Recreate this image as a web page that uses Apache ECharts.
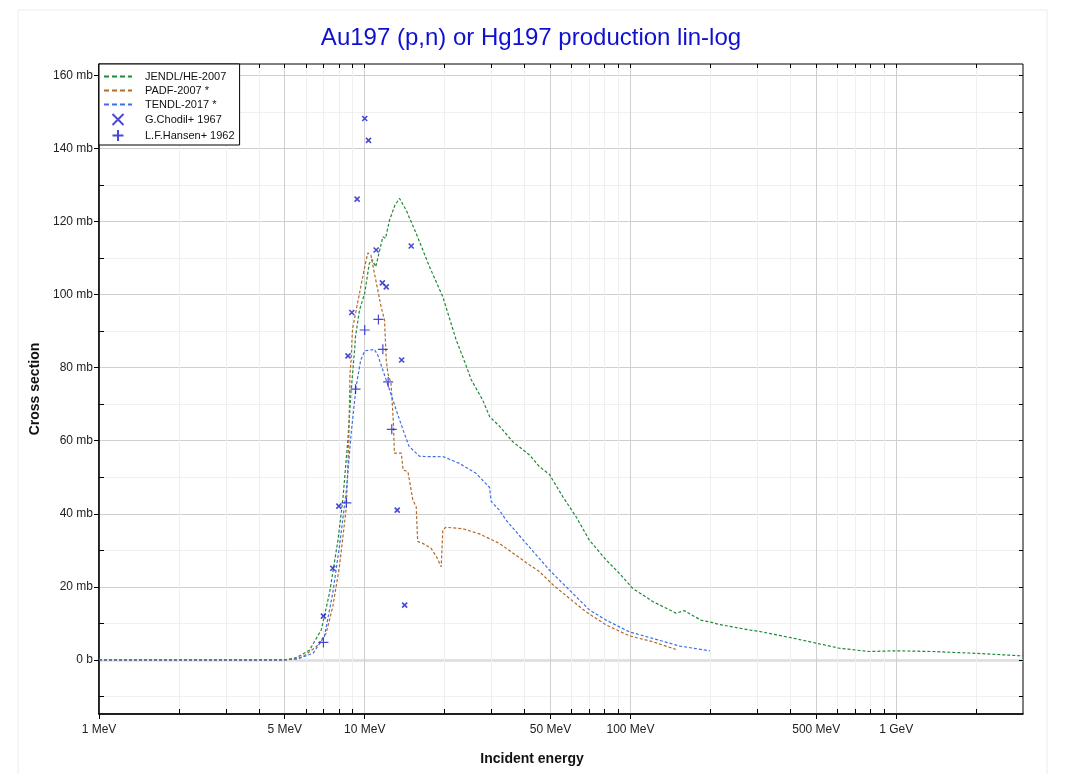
<!DOCTYPE html>
<html><head><meta charset="utf-8">
<script src="https://cdn.jsdelivr.net/npm/echarts@6/dist/echarts.min.js"></script>
<style>html,body{margin:0;padding:0;background:#fff}#c{width:1071px;height:774px}</style>
</head><body><div id="c"></div>
<script>
// ---- data (energy in MeV, cross section in mb) ----
const jendlE  = [1, 2, 3, 4, 5, 5.4, 5.69, 6.2, 6.86, 7.37, 7.93, 8.27, 8.64, 8.89, 9.16, 9.23, 9.56, 10.0, 10.4, 10.65, 11.0, 11.7, 11.97, 12.4, 13.0, 13.52, 14.32, 15.62, 17.53, 19.67, 22.1, 23.38, 25.2, 27.8, 29.5, 32.1, 36.1, 41.7, 45.4, 49.5, 55.6, 62.4, 70, 80.9, 90.8, 101.9, 121.2, 148.4, 159.5, 184, 204, 216, 280, 305, 395, 499, 611, 791, 997, 1371, 1995, 3000];
const jendlXS = [0, 0, 0, 0, 0.05, 0.4, 1.1, 2.7, 8.2, 18.3, 32.8, 43.8, 60.2, 73.9, 84.8, 88.5, 95.8, 100.4, 108.5, 109.6, 107.6, 115.8, 115.4, 120.4, 124.5, 126.3, 123.1, 116.7, 107.6, 99.4, 87.5, 83.0, 76.6, 71.1, 66.6, 64.0, 59.7, 56.1, 52.9, 50.8, 44.7, 39.2, 32.8, 27.4, 23.7, 19.6, 16.0, 12.8, 13.5, 10.9, 10.2, 9.7, 8.2, 7.8, 6.2, 4.6, 3.2, 2.3, 2.5, 2.3, 1.8, 1.1];

const padfE  = [1, 2, 3, 4, 5, 5.5, 5.85, 6.57, 7.16, 7.58, 8.03, 8.53, 8.71, 8.8, 8.89, 8.95, 9.0, 9.1, 9.66, 10.0, 10.27, 10.55, 10.88, 11.2, 11.52, 11.87, 12.05, 12.22, 12.56, 12.82, 12.93, 13.73, 13.94, 14.54, 15.17, 15.62, 15.82, 16.53, 17.74, 18.6, 19.4, 19.67, 20.2, 23.4, 27.0, 32.1, 34, 41.7, 45.4, 51.2, 58.8, 67.9, 80.9, 98.9, 121, 148];
const padfXS = [0, 0, 0, 0, 0.02, 0.3, 0.9, 3.6, 7.3, 14.6, 25.5, 41.9, 60.2, 78.4, 82.1, 87.5, 90.7, 90.8, 102.1, 107.6, 111.4, 110.8, 105.8, 101.2, 96.7, 93.0, 82.1, 78.4, 75.7, 64.8, 56.6, 56.6, 52.0, 51.5, 43.8, 41.9, 32.4, 31.9, 30.6, 28.3, 25.5, 35.6, 36.3, 35.9, 34.5, 31.9, 30.6, 26.0, 24.2, 20.5, 16.9, 13.2, 9.6, 6.6, 5.0, 2.9];

const tendlE  = [1, 2, 3, 4, 5, 5.6, 6.39, 7.05, 7.58, 8.03, 8.53, 8.89, 9.28, 9.66, 10.0, 10.88, 11.2, 11.7, 12.4, 13.14, 13.94, 14.7, 16.1, 19.8, 22.7, 26.2, 29.5, 29.9, 32.1, 34, 39.5, 49.5, 58.8, 70, 80.9, 98.9, 121, 153, 199];
const tendlXS = [0, 0, 0, 0, 0.02, 0.3, 1.8, 6.4, 18.3, 31.0, 46.5, 62.0, 74.8, 82.1, 84.6, 85.0, 83.4, 79.3, 73.9, 68.4, 62.9, 58.4, 55.7, 55.6, 53.8, 51.1, 47.2, 43.4, 41.0, 38.3, 32.8, 24.6, 19.2, 13.7, 10.9, 7.7, 5.9, 3.8, 2.5];

const chodilE  = [10.0, 10.33, 9.36, 11.04, 14.96, 11.65, 12.05, 8.94, 8.65, 13.77, 7.99, 7.58, 6.99, 13.25, 14.13];
const chodilXS = [148.2, 142.2, 126.1, 112.2, 113.3, 103.2, 102.1, 95.1, 83.2, 82.1, 42.1, 25.1, 12.0, 41.0, 15.0];

const hansenE  = [6.99, 8.53, 9.23, 10.0, 11.26, 11.7, 12.25, 12.64];
const hansenXS = [4.8, 43.0, 74.1, 90.3, 93.2, 85.0, 76.1, 63.1];

const seriesNames = ['JENDL/HE-2007', 'PADF-2007 *', 'TENDL-2017 *', 'G.Chodil+ 1967', 'L.F.Hansen+ 1962'];

const xMajorTicks = [1, 5, 10, 50, 100, 500, 1000];
const xMinorTicks = [2, 3, 4, 6, 7, 8, 9, 20, 30, 40, 60, 70, 80, 90, 200, 300, 400, 600, 700, 800, 900, 2000];
const yMajorTicks = [0, 20, 40, 60, 80, 100, 120, 140, 160];
const yMinorTicks = [-10, 10, 30, 50, 70, 90, 110, 130, 150];
const yZeroLine = [0];

const xMin = 1, xMax = 3000, yMin = -14.8, yMax = 163.1;

function zip(a, b) { return a.map((v, i) => [v, b[i]]); }
function xLabel(v) { return v >= 1000 ? (v / 1000) + ' GeV' : v + ' MeV'; }
function yLabel(v) { return v === 0 ? '0 b' : v + ' mb'; }

const FONT = 'Liberation Sans, Arial, sans-serif';
const cGreen = '#1f8a35', cBrown = '#b06a2c', cBlue = '#3d6fe6', cMark = '#1c1ccc';
const xSym = 'path://M0,0L10,10M0,10L10,0';
const pSym = 'path://M5,0L5,10M0,5L10,5';

const chart = echarts.init(document.getElementById('c'), null, { renderer: 'canvas' });

function xAxisBase(extra) {
  return Object.assign({ type: 'log', logBase: 10, min: xMin, max: xMax, gridIndex: 0 }, extra);
}
function yAxisBase(extra) {
  return Object.assign({ type: 'value', min: yMin, max: yMax, gridIndex: 0 }, extra);
}
const hideSym = { color: 'rgba(0,0,0,0)', borderColor: 'rgba(0,0,0,0)', borderWidth: 0, opacity: 0 };
const lineColors = [cGreen, cBrown, cBlue];

const option = {
  backgroundColor: '#fff',
  animation: false,
  title: {
    text: 'Au197 (p,n) or Hg197 production lin-log',
    left: 526, top: 21, textAlign: 'center',
    textStyle: { color: '#1010d0', fontSize: 24, fontWeight: 'normal', fontFamily: FONT }
  },
  grid: { left: 99, right: 48, top: 64, bottom: 60, show: true, borderColor: '#000', borderWidth: 1, backgroundColor: 'transparent' },
  legend: {
    orient: 'vertical', left: 99, top: 64,
    data: seriesNames.map((n, i) => i < 3
      ? { name: n, itemStyle: hideSym, lineStyle: { color: lineColors[i], width: 2, type: [5, 3] } }
      : { name: n }),
    backgroundColor: '#fff', borderColor: '#000', borderWidth: 1,
    padding: [7, 5, 3, 4], itemGap: 3, itemWidth: 28, itemHeight: 11,
    textStyle: { fontSize: 11, color: '#111', fontFamily: FONT, padding: [0, 0, 0, 8] }
  },
  xAxis: [
    xAxisBase({
      position: 'bottom',
      axisLine: { show: true, onZero: false, lineStyle: { color: '#000', width: 1.5 } },
      axisTick: { show: true, inside: false, length: 5, customValues: xMajorTicks, lineStyle: { color: '#000' } },
      axisLabel: { show: true, customValues: xMajorTicks, formatter: xLabel, margin: 10, fontSize: 12, color: '#222', fontFamily: FONT },
      splitLine: { show: true, lineStyle: { color: '#cfcfcf', width: 1 } },
      minorTick: { show: false }, minorSplitLine: { show: false }
    }),
    xAxisBase({
      position: 'bottom',
      axisLine: { show: false, onZero: false },
      axisTick: { show: true, inside: true, length: 5, customValues: xMinorTicks, lineStyle: { color: '#000' } },
      axisLabel: { show: false },
      splitLine: { show: true, lineStyle: { color: '#efefef', width: 1 } }
    }),
    xAxisBase({
      position: 'top',
      axisLine: { show: false, onZero: false },
      axisTick: { show: true, inside: true, length: 4, customValues: xMajorTicks.concat(xMinorTicks), lineStyle: { color: '#000' } },
      axisLabel: { show: false },
      splitLine: { show: false }
    })
  ],
  yAxis: [
    yAxisBase({
      position: 'left',
      axisLine: { show: true, onZero: false, lineStyle: { color: '#000', width: 1.5 } },
      axisTick: { show: true, inside: false, length: 5, customValues: yMajorTicks, lineStyle: { color: '#000' } },
      axisLabel: { show: true, customValues: yMajorTicks, formatter: yLabel, margin: 6, fontSize: 12, color: '#222', fontFamily: FONT },
      splitLine: { show: true, lineStyle: { color: '#cfcfcf', width: 1 } },
      name: 'Cross section', nameLocation: 'middle', nameGap: 55, nameRotate: 90,
      nameTextStyle: { fontSize: 14, fontWeight: 'bold', color: '#111', fontFamily: FONT }
    }),
    yAxisBase({
      position: 'left',
      axisLine: { show: false, onZero: false },
      axisTick: { show: true, inside: true, length: 5, customValues: yMinorTicks, lineStyle: { color: '#000' } },
      axisLabel: { show: false },
      splitLine: { show: true, lineStyle: { color: '#f0f0f0', width: 1 } }
    }),
    yAxisBase({
      position: 'right',
      axisLine: { show: false, onZero: false },
      axisTick: { show: true, inside: true, length: 4, customValues: yMajorTicks.concat(yMinorTicks), lineStyle: { color: '#000' } },
      axisLabel: { show: false },
      splitLine: { show: false }
    }),
    yAxisBase({
      position: 'left',
      axisLine: { show: false, onZero: false },
      axisTick: { show: false, customValues: yZeroLine },
      axisLabel: { show: false },
      splitLine: { show: true, lineStyle: { color: '#dcdcdc', width: 2.5 } }
    })
  ],
  graphic: [
    { type: 'rect', shape: { x: 18, y: 10, width: 1029, height: 800 }, style: { fill: 'none', stroke: '#ececec', lineWidth: 1 }, z: -10, silent: true },
    { type: 'text', x: 532, y: 759, style: { text: 'Incident energy', fontSize: 14, fontWeight: 'bold', fill: '#111', fontFamily: FONT, textAlign: 'center', textVerticalAlign: 'middle' } }
  ],
  series: [
    { name: seriesNames[0], type: 'line', xAxisIndex: 0, yAxisIndex: 0, data: zip(jendlE, jendlXS), symbol: 'none', smooth: false,
      lineStyle: { color: cGreen, width: 1.2, type: [3, 2] }, itemStyle: { color: cGreen }, z: 3 },
    { name: seriesNames[1], type: 'line', xAxisIndex: 0, yAxisIndex: 0, data: zip(padfE, padfXS), symbol: 'none', smooth: false,
      lineStyle: { color: cBrown, width: 1.2, type: [3, 2] }, itemStyle: { color: cBrown }, z: 3 },
    { name: seriesNames[2], type: 'line', xAxisIndex: 0, yAxisIndex: 0, data: zip(tendlE, tendlXS), symbol: 'none', smooth: false,
      lineStyle: { color: cBlue, width: 1.2, type: [3, 2] }, itemStyle: { color: cBlue }, z: 3 },
    { name: seriesNames[3], type: 'scatter', xAxisIndex: 0, yAxisIndex: 0, data: zip(chodilE, chodilXS), symbol: xSym, symbolSize: 5,
      itemStyle: { color: 'rgba(0,0,0,0)', borderColor: cMark, borderWidth: 1.6 }, z: 4 },
    { name: seriesNames[4], type: 'scatter', xAxisIndex: 0, yAxisIndex: 0, data: zip(hansenE, hansenXS), symbol: pSym, symbolSize: 10,
      itemStyle: { color: 'rgba(0,0,0,0)', borderColor: cMark, borderWidth: 1.2 }, z: 4 }
  ]
};
chart.setOption(option);
</script>
</body></html>
